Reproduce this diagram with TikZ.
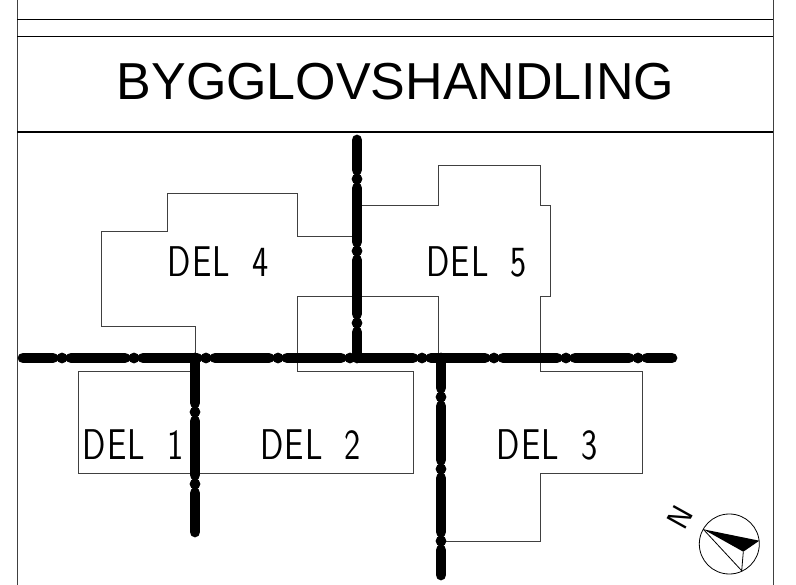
\documentclass[tikz,border=0pt]{standalone}
\usepackage{fontspec}
\setmainfont{Liberation Sans}
\newfontfamily\delfont[LetterSpace=4,WordSpace=1.8]{Latin Modern Sans}
\begin{document}
\begin{tikzpicture}[x=1pt,y=-1pt,
  ram/.style = {draw=black!75,line width=.9pt},
  rule/.style = {draw=black,line width=1pt},
  snitt/.style = {draw=black,line width=10.8pt,line cap=round},
  del/.style = {font=\delfont\fontsize{43}{43}\selectfont,xscale=.8,inner sep=0pt},
  title/.style = {font=\fontsize{52}{52}\selectfont,inner sep=0pt}]

\useasboundingbox (0,0) rectangle (796,585);

% frame
\draw[ram] (17,0) -- (17,585);
\draw[ram] (773,0) -- (773,585);
\draw[rule] (17,19.5) -- (773,19.5);
\draw[rule] (17,36.5) -- (773,36.5);
\draw[rule,line width=1.6pt] (17,132) -- (773,132);

\node[title] (titel) at (395.5,82) {BYGGLOVSHANDLING};

% outlines
\draw[ram] (195,358) -- (195,326) -- (101,326) -- (101,231) -- (167,231) -- (167,193)
  -- (297,193) -- (297,236) -- (357,236);
\draw[ram] (357,205.5) -- (438,205.5) -- (438,165) -- (540,165) -- (540,205.5) -- (550,205.5)
  -- (550,296) -- (540,296) -- (540,371) -- (642,371) -- (642,473) -- (540,473) -- (540,541) -- (441,541);
\draw[ram] (438,358) -- (438,296) -- (297,296) -- (297,371) -- (413,371) -- (413,473) -- (78,473)
  -- (78,371) -- (195,371);

% cut lines
\draw[snitt,dash pattern=on 54pt off 9pt on 0pt off 9pt,dash phase=24pt] (23,358) -- (672,358);
\draw[snitt,dash pattern=on 54pt off 9pt on 0pt off 9pt,dash phase=9pt] (195,358) -- (195,532);
\draw[snitt,dash pattern=on 54pt off 9pt on 0pt off 9pt,dash phase=24pt] (357,140) -- (357,358);
\draw[snitt,dash pattern=on 54pt off 9pt on 0pt off 9pt,dash phase=24pt] (441,358) -- (441,575);

\node[del] (del1) at (133,445) {DEL 1};
\node[del] (del2) at (310.5,445) {DEL 2};
\node[del] (del3) at (547,445) {DEL 3};
\node[del] (del4) at (218,262) {DEL 4};
\node[del] (del5) at (476.5,262) {DEL 5};

% north arrow
\draw[black,line width=.8pt] (729.3,544) circle (30);
\coordinate (a) at (703.3,529.3);
\coordinate (b) at (759.3,540.7);
\coordinate (c) at (743.3,551.7);
\coordinate (d) at (741.7,570.7);
\fill[black] (a) -- (b) -- (c) -- cycle;
\draw[black,line width=.8pt] (a) -- (d) -- (c);
\node[font=\delfont\fontsize{31}{31}\selectfont,inner sep=0pt,rotate=61] (nord) at (680,517) {N};

\end{tikzpicture}
\end{document}
